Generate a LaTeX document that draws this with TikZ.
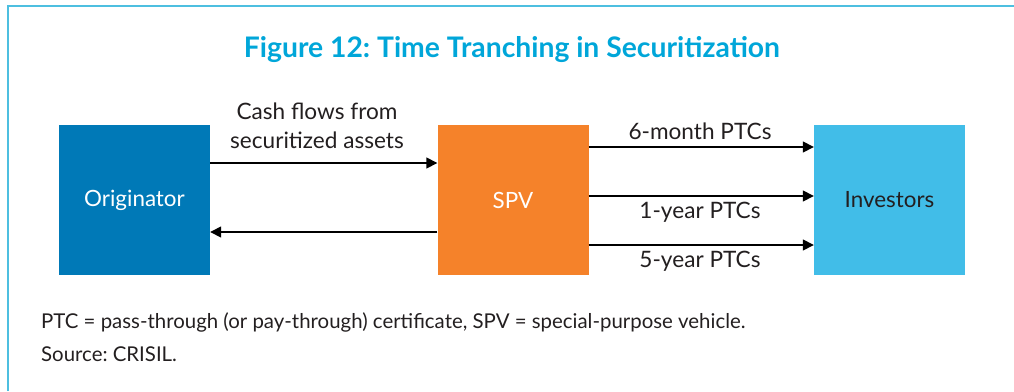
\documentclass[tikz,border=0pt]{standalone}
\usepackage{fontspec}
\setmainfont{Lato}
\usetikzlibrary{arrows.meta}
\frenchspacing
\definecolor{origblue}{HTML}{0079B7}
\definecolor{spvorange}{HTML}{F5822A}
\definecolor{invblue}{HTML}{41BDE8}
\definecolor{titleblue}{HTML}{00A6D9}
\definecolor{framecol}{HTML}{4DBFE0}
\definecolor{txt}{HTML}{231F20}
\tikzset{
  party/.style={minimum width=151pt,minimum height=150pt,inner sep=0pt,
    text=white,font=\fontsize{22.4}{26}\selectfont},
  flow/.style={line width=1.5pt,-{Triangle[length=11pt,width=11pt]}},
  lbl/.style={font=\fontsize{22.6}{29}\selectfont,text=txt,inner sep=0pt,align=center},
  note/.style={font=\fontsize{20.4}{23}\selectfont,text=txt,inner sep=0pt,anchor=base west}
}
\begin{document}
\begin{tikzpicture}[x=1pt,y=-1pt]
\useasboundingbox (0,0) rectangle (1014,391);
% frame, open to the right and bottom
\draw[framecol,line width=2.5pt] (8.2,391) -- (8.2,5.8) -- (1014,5.8);
% title
\node[font=\fontsize{28.3}{32}\selectfont\bfseries,text=titleblue,inner sep=0pt] (title) at (512,50) {Figure 12: Time Tranching in Securitization};
% parties
\node[party,fill=origblue] (orig) at (134.5,200) {Originator};
\node[party,fill=spvorange] (spv) at (513,200) {SPV};
\node[party,fill=invblue,text=txt] (inv) at (889.5,200) {Investors};
% flows between originator and SPV
\coordinate (o1) at (orig.east |- 0,163);
\coordinate (s1) at (spv.west |- 0,163);
\coordinate (o2) at (orig.east |- 0,232);
\coordinate (s2) at (spv.west |- 0,232);
\draw[flow] (o1) -- (s1);
\draw[flow] (s2) -- (o2);
\node[lbl] (cashlbl) at (317,126) {Cash flows from\\securitized assets};
% tranches from SPV to investors
\foreach \n/\y in {a/147,b/196,c/245}{
  \coordinate (sp\n) at (spv.east |- 0,\y);
  \coordinate (iv\n) at (inv.west |- 0,\y);
  \draw[flow] (sp\n) -- (iv\n);
}
\node[lbl] (t6m) at (700,131) {6-month PTCs};
\node[lbl] (t1y) at (700,212) {1-year PTCs};
\node[lbl] (t5y) at (700,261) {5-year PTCs};
% notes
\node[note] (abbr) at (41,328) {PTC = pass-through (or pay-through) certificate, SPV = special-purpose vehicle.};
\node[note] (src) at (41,361) {Source: CRISIL.};
\end{tikzpicture}
\end{document}
